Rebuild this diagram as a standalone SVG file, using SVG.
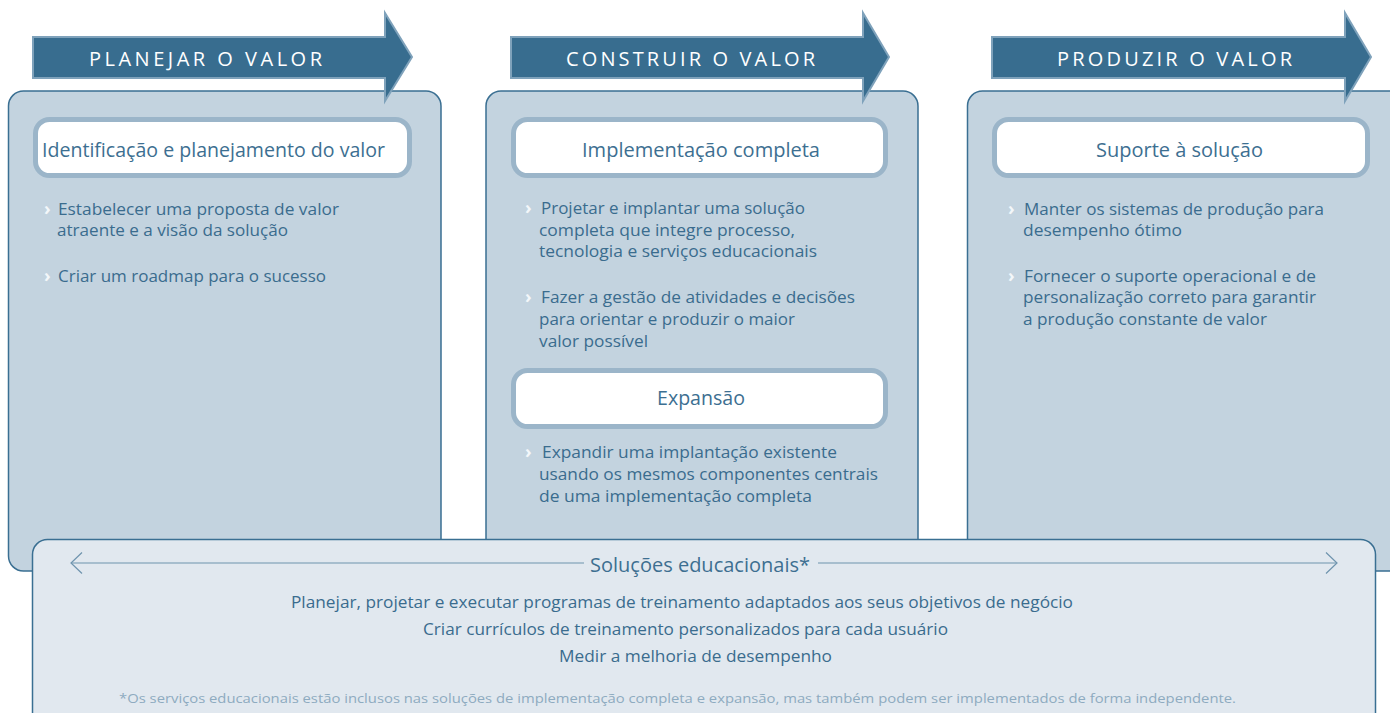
<svg xmlns="http://www.w3.org/2000/svg" width="1390" height="713" viewBox="0 0 1390 713">
<defs>
<style>
.panel{fill:#c3d3df;stroke:#3a6f92;stroke-width:1.5}
.bottom{fill:#e1e8ef;stroke:#3a6f92;stroke-width:1.5}
.arrow{fill:#386d8f;stroke:#7fa2bb;stroke-width:2}
.box{fill:#ffffff;stroke:#9bb5c9;stroke-width:5}
.hdr{font-family:"Open Sans","Liberation Sans",sans-serif;font-size:20px;fill:#ffffff;letter-spacing:3px}
.ttl{font-family:"Open Sans","Liberation Sans",sans-serif;font-size:20px;fill:#3d6f91}
.txt{font-family:"Open Sans","Liberation Sans",sans-serif;font-size:17px;fill:#3a6c8e}
.bul{font-family:"Open Sans","Liberation Sans",sans-serif;font-size:18px;font-weight:bold;fill:#f3f7fa}
.note{font-family:"Open Sans","Liberation Sans",sans-serif;font-size:13.5px;fill:#8eabc0}
.conn{fill:none;stroke:#6f94ae;stroke-width:1.2}
</style>
</defs>

<g id="panel-planejar">
<rect class="panel" x="8.5" y="91" width="432.5" height="480" rx="15"/>
<path class="arrow" d="M33,37 H385 V13 L412,57 L385,101 V78 H33 Z"/>
<text class="hdr" x="89" y="66" textLength="236" lengthAdjust="spacing">PLANEJAR O VALOR</text>
<rect class="box" x="35.5" y="119.5" width="374" height="56" rx="14"/>
<text class="ttl" x="42" y="157" textLength="343" lengthAdjust="spacingAndGlyphs">Identificação e planejamento do valor</text>
<text class="bul" x="44" y="215">›</text>
<text class="txt" x="58" y="215" textLength="281" lengthAdjust="spacingAndGlyphs">Estabelecer uma proposta de valor</text>
<text class="txt" x="57" y="236" textLength="231" lengthAdjust="spacingAndGlyphs">atraente e a visão da solução</text>
<text class="bul" x="44" y="282">›</text>
<text class="txt" x="58" y="282" textLength="268" lengthAdjust="spacingAndGlyphs">Criar um roadmap para o sucesso</text>
</g>

<g id="panel-construir">
<rect class="panel" x="486" y="91" width="432" height="480" rx="15"/>
<path class="arrow" d="M511,37 H863 V13 L889,57 L863,101 V78 H511 Z"/>
<text class="hdr" x="566" y="66" textLength="252" lengthAdjust="spacing">CONSTRUIR O VALOR</text>
<rect class="box" x="513.5" y="119.5" width="372" height="56" rx="14"/>
<text class="ttl" x="582" y="157" textLength="238" lengthAdjust="spacingAndGlyphs">Implementação completa</text>
<text class="bul" x="525" y="214">›</text>
<text class="txt" x="541" y="214" textLength="264" lengthAdjust="spacingAndGlyphs">Projetar e implantar uma solução</text>
<text class="txt" x="539" y="236" textLength="256" lengthAdjust="spacingAndGlyphs">completa que integre processo,</text>
<text class="txt" x="539" y="257" textLength="278" lengthAdjust="spacingAndGlyphs">tecnologia e serviços educacionais</text>
<text class="bul" x="525" y="303">›</text>
<text class="txt" x="541" y="303" textLength="314" lengthAdjust="spacingAndGlyphs">Fazer a gestão de atividades e decisões</text>
<text class="txt" x="539" y="325" textLength="256" lengthAdjust="spacingAndGlyphs">para orientar e produzir o maior</text>
<text class="txt" x="539" y="347" textLength="109" lengthAdjust="spacingAndGlyphs">valor possível</text>
</g>

<g id="box-expansao">
<rect class="box" x="513.5" y="370.5" width="372" height="56" rx="14"/>
<text class="ttl" x="657" y="405" textLength="88" lengthAdjust="spacingAndGlyphs">Expansão</text>
<text class="bul" x="525" y="458">›</text>
<text class="txt" x="542" y="458" textLength="295" lengthAdjust="spacingAndGlyphs">Expandir uma implantação existente</text>
<text class="txt" x="539" y="480" textLength="339" lengthAdjust="spacingAndGlyphs">usando os mesmos componentes centrais</text>
<text class="txt" x="539" y="502" textLength="273" lengthAdjust="spacingAndGlyphs">de uma implementação completa</text>
</g>

<g id="panel-produzir">
<rect class="panel" x="967.5" y="91" width="440" height="480" rx="15"/>
<path class="arrow" d="M992,37 H1345 V13 L1371,57 L1345,101 V78 H992 Z"/>
<text class="hdr" x="1057" y="66" textLength="238" lengthAdjust="spacing">PRODUZIR O VALOR</text>
<rect class="box" x="994.5" y="119.5" width="373" height="56" rx="14"/>
<text class="ttl" x="1096" y="157" textLength="167" lengthAdjust="spacingAndGlyphs">Suporte à solução</text>
<text class="bul" x="1008" y="215">›</text>
<text class="txt" x="1024" y="215" textLength="300" lengthAdjust="spacingAndGlyphs">Manter os sistemas de produção para</text>
<text class="txt" x="1023" y="236" textLength="159" lengthAdjust="spacingAndGlyphs">desempenho ótimo</text>
<text class="bul" x="1008" y="282">›</text>
<text class="txt" x="1024" y="282" textLength="292" lengthAdjust="spacingAndGlyphs">Fornecer o suporte operacional e de</text>
<text class="txt" x="1023" y="303" textLength="293" lengthAdjust="spacingAndGlyphs">personalização correto para garantir</text>
<text class="txt" x="1023" y="325" textLength="244" lengthAdjust="spacingAndGlyphs">a produção constante de valor</text>
</g>

<g id="panel-educacionais">
<rect class="bottom" x="32.5" y="539.5" width="1343" height="200" rx="15"/>
<text class="ttl" x="590" y="572" textLength="220" lengthAdjust="spacingAndGlyphs">Soluções educacionais*</text>
<text class="txt" x="291" y="608" textLength="782" lengthAdjust="spacingAndGlyphs">Planejar, projetar e executar programas de treinamento adaptados aos seus objetivos de negócio</text>
<text class="txt" x="423" y="635" textLength="525" lengthAdjust="spacingAndGlyphs">Criar currículos de treinamento personalizados para cada usuário</text>
<text class="txt" x="559" y="662" textLength="273" lengthAdjust="spacingAndGlyphs">Medir a melhoria de desempenho</text>
<text class="note" x="119" y="703" textLength="1117" lengthAdjust="spacingAndGlyphs">*Os serviços educacionais estão inclusos nas soluções de implementação completa e expansão, mas também podem ser implementados de forma independente.</text>
</g>

<g id="connectors">
<path class="conn" d="M71,563 H584"/>
<path class="conn" d="M82,552.5 L71,563 L82,573.5"/>
<path class="conn" d="M818,563 H1337"/>
<path class="conn" d="M1326,552.5 L1337,563 L1326,573.5"/>
</g>
</svg>
